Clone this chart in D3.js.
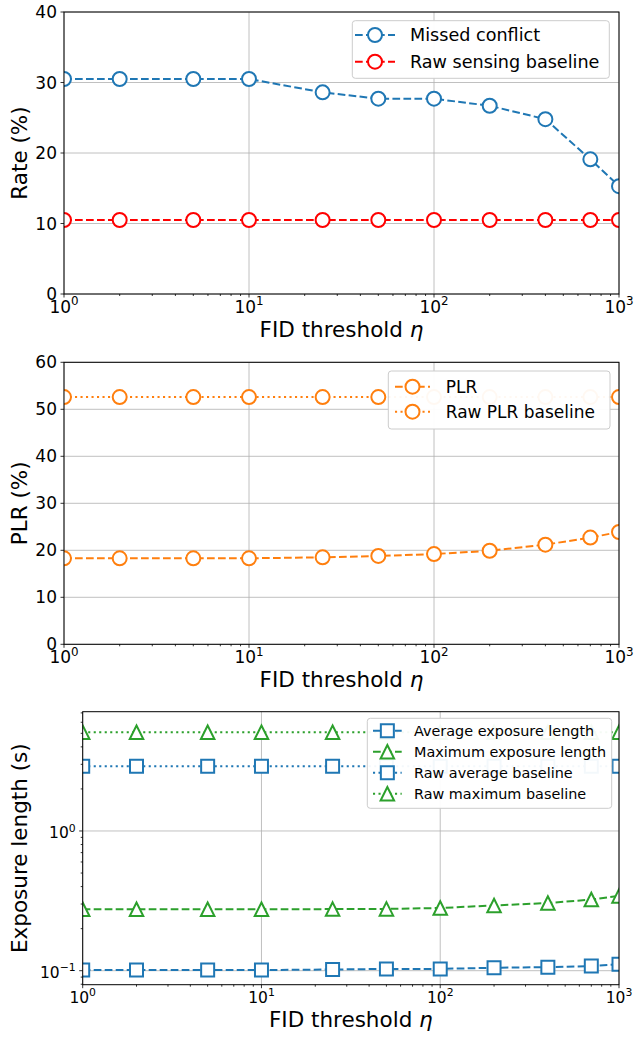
<!DOCTYPE html>
<html>
<head>
<meta charset="utf-8">
<script src="https://cdn.jsdelivr.net/npm/d3@7"></script>
<style>
  body { margin: 0; background: #fff; }
  svg { display: block; }
  text { font-family: "DejaVu Sans", sans-serif; fill: #000; }
</style>
</head>
<body>
<svg id="fig" width="636" height="1038"></svg>
<script>
// ---- data ----
const fidThresholds = [1, 2, 5, 10, 25, 50, 100, 200, 400, 700, 1000];

const missedConflict     = [30.5, 30.5, 30.5, 30.5, 28.6, 27.7, 27.7, 26.7, 24.8, 19.1, 15.3];
const rawSensingBaseline = [10.5, 10.5, 10.5, 10.5, 10.5, 10.5, 10.5, 10.5, 10.5, 10.5, 10.5];

const plr            = [18.3, 18.3, 18.3, 18.3, 18.5, 18.8, 19.2, 19.9, 21.2, 22.7, 23.9];
const rawPlrBaseline = [52.6, 52.6, 52.6, 52.6, 52.6, 52.6, 52.6, 52.6, 52.6, 52.6, 52.6];

const avgExposure    = [0.101, 0.101, 0.101, 0.101, 0.102, 0.103, 0.103, 0.105, 0.106, 0.108, 0.111];
const maxExposure    = [0.275, 0.275, 0.275, 0.275, 0.276, 0.277, 0.281, 0.293, 0.305, 0.323, 0.343];
const rawAvgBaseline = [2.90, 2.90, 2.90, 2.90, 2.90, 2.90, 2.90, 2.90, 2.90, 2.90, 2.90];
const rawMaxBaseline = [5.09, 5.09, 5.09, 5.09, 5.09, 5.09, 5.09, 5.09, 5.09, 5.09, 5.09];

// ---- ticks ----
const xDecadeExponents = [0, 1, 2, 3];
const rateTicks = [0, 10, 20, 30, 40];
const plrTicks = [0, 10, 20, 30, 40, 50, 60];
const exposureDecadeExponents = [-1, 0];

const BLUE = "#1f77b4", RED = "#ff0000", ORANGE = "#ff7f0e", GREEN = "#2ca02c";
const DASH = { dashed: "7.7,3.3", dotted: "2.1,3.4" };

const svg = d3.select("#fig");

function supLabel(sel, base, exp, size) {
  sel.append("tspan").text(base);
  sel.append("tspan").attr("dy", -0.45 * size).attr("font-size", size * 0.7)
     .text(String(exp).replace("-", "\u2212"));
}

function drawMarker(g, type, cx, cy, color, size) {
  const h = size / 2;
  if (type === "circle") {
    g.append("circle").attr("cx", cx).attr("cy", cy).attr("r", h)
      .attr("fill", "#fff").attr("stroke", color).attr("stroke-width", 2);
  } else {
    const d = type === "square"
      ? `M${-h},${-h}H${h}V${h}H${-h}Z`
      : `M0,${-h}L${h},${h}L${-h},${h}Z`;
    g.append("path").attr("d", d).attr("transform", `translate(${cx},${cy})`)
      .attr("fill", "#fff").attr("stroke", color).attr("stroke-width", 2)
      .attr("stroke-linejoin", "miter");
  }
}

let clipId = 0;
function drawPanel(p) {
  const g = svg.append("g");
  const x = d3.scaleLog().domain([1, 1000]).range([p.left, p.right]);
  const y = (p.logY ? d3.scaleLog() : d3.scaleLinear()).domain(p.yDomain).range([p.bottom, p.top]);
  const id = "clip" + (clipId++);
  g.append("clipPath").attr("id", id).append("rect")
    .attr("x", p.left).attr("y", p.top)
    .attr("width", p.right - p.left).attr("height", p.bottom - p.top);

  // grid
  const grid = g.append("g").attr("stroke", "#b0b0b0").attr("stroke-width", 0.8);
  xDecadeExponents.forEach(e => {
    const xv = x(Math.pow(10, e));
    grid.append("line").attr("x1", xv).attr("x2", xv).attr("y1", p.top).attr("y2", p.bottom);
  });
  p.yTickValues.forEach(v => {
    const yv = y(v);
    grid.append("line").attr("x1", p.left).attr("x2", p.right).attr("y1", yv).attr("y2", yv);
  });

  // series
  const plot = g.append("g").attr("clip-path", `url(#${id})`);
  const line = d3.line().x((d, i) => x(fidThresholds[i])).y(d => y(d));
  p.series.forEach(s => {
    plot.append("path").datum(s.values).attr("d", line)
      .attr("fill", "none").attr("stroke", s.color).attr("stroke-width", 2)
      .attr("stroke-dasharray", DASH[s.dash]);
    s.values.forEach((v, i) => drawMarker(plot, s.marker, x(fidThresholds[i]), y(v), s.color, s.size));
  });

  // spines
  g.append("rect").attr("x", p.left).attr("y", p.top)
    .attr("width", p.right - p.left).attr("height", p.bottom - p.top)
    .attr("fill", "none").attr("stroke", "#000").attr("stroke-width", 1);

  // x ticks
  const ticks = g.append("g").attr("stroke", "#000").attr("stroke-width", 0.8);
  xDecadeExponents.forEach(e => {
    const xv = x(Math.pow(10, e));
    ticks.append("line").attr("x1", xv).attr("x2", xv).attr("y1", p.bottom).attr("y2", p.bottom + 3.5);
    const t = g.append("text").attr("x", xv).attr("y", p.bottom + p.xTickBaseline)
      .attr("text-anchor", "middle").attr("font-size", p.tickFont);
    supLabel(t, "10", e, p.tickFont);
  });
  [1, 10, 100].forEach(dec => {
    for (let k = 2; k <= 9; k++) {
      const xv = x(dec * k);
      ticks.append("line").attr("x1", xv).attr("x2", xv).attr("y1", p.bottom).attr("y2", p.bottom + 2);
    }
  });

  // y ticks
  p.yTickValues.forEach((v, i) => {
    const yv = y(v);
    ticks.append("line").attr("x1", p.left - 3.5).attr("x2", p.left).attr("y1", yv).attr("y2", yv);
    const t = g.append("text").attr("x", p.left - 7).attr("y", yv + p.yTickShift)
      .attr("text-anchor", "end").attr("font-size", p.tickFont);
    if (p.logY) supLabel(t, "10", exposureDecadeExponents[i], p.tickFont);
    else t.text(p.yTickLabels[i]);
  });
  if (p.logY) {
    const [lo, hi] = p.yDomain;
    [0.01, 0.1, 1].forEach(dec => {
      for (let k = 2; k <= 9; k++) {
        const v = dec * k;
        if (v < lo || v > hi) continue;
        const yv = y(v);
        ticks.append("line").attr("x1", p.left - 2).attr("x2", p.left).attr("y1", yv).attr("y2", yv);
      }
    });
  }

  // axis labels
  const xl = g.append("text").attr("x", (p.left + p.right) / 2).attr("y", p.xLabelY)
    .attr("text-anchor", "middle").attr("font-size", 21.5);
  xl.append("tspan").text("FID threshold ");
  xl.append("tspan").attr("font-style", "italic").text("\u03b7");
  g.append("text").attr("transform", `translate(27,${(p.top + p.bottom) / 2}) rotate(-90)`)
    .attr("text-anchor", "middle").attr("font-size", 21.5).text(p.yLabel);

  // legend
  const L = p.legend;
  const lg = g.append("g");
  lg.append("rect").attr("x", L.x0).attr("y", L.y0)
    .attr("width", L.x1 - L.x0).attr("height", L.y1 - L.y0).attr("rx", 3)
    .attr("fill", "#fff").attr("fill-opacity", 0.95)
    .attr("stroke", "#cccccc").attr("stroke-width", 1);
  p.series.forEach((s, i) => {
    const cy = L.row0 + i * L.rowGap;
    lg.append("line").attr("x1", L.h0).attr("x2", L.h1).attr("y1", cy).attr("y2", cy)
      .attr("stroke", s.color).attr("stroke-width", 2).attr("stroke-dasharray", DASH[s.dash]);
    drawMarker(lg, s.marker, (L.h0 + L.h1) / 2, cy, s.color, s.size);
    lg.append("text").attr("x", L.tx).attr("y", cy + 0.35 * L.font)
      .attr("font-size", L.font).text(s.label);
  });
}

drawPanel({
  left: 64, right: 619, top: 12, bottom: 294,
  yDomain: [0, 40], yTickValues: rateTicks, yTickLabels: rateTicks.map(String),
  tickFont: 17, xTickBaseline: 19, yTickShift: 6, xLabelY: 337,
  yLabel: "Rate (%)",
  series: [
    { values: missedConflict, color: BLUE, dash: "dashed", marker: "circle", size: 14, label: "Missed conflict" },
    { values: rawSensingBaseline, color: RED, dash: "dashed", marker: "circle", size: 14, label: "Raw sensing baseline" }
  ],
  legend: { x0: 352.3, y0: 20.7, x1: 609.3, y1: 78.3, row0: 35, rowGap: 26.7, h0: 355, h1: 395, tx: 410, font: 17.6 }
});

drawPanel({
  left: 64, right: 619, top: 362.3, bottom: 644.3,
  yDomain: [0, 60], yTickValues: plrTicks, yTickLabels: plrTicks.map(String),
  tickFont: 17, xTickBaseline: 19, yTickShift: 6, xLabelY: 687,
  yLabel: "PLR (%)",
  series: [
    { values: plr, color: ORANGE, dash: "dashed", marker: "circle", size: 14, label: "PLR" },
    { values: rawPlrBaseline, color: ORANGE, dash: "dotted", marker: "circle", size: 14, label: "Raw PLR baseline" }
  ],
  legend: { x0: 388.3, y0: 371, x1: 610, y1: 429, row0: 386.7, rowGap: 25, h0: 395, h1: 430, tx: 445.7, font: 17 }
});

drawPanel({
  left: 82.7, right: 619, top: 711.7, bottom: 984.7,
  logY: true, yDomain: [0.0794, 7.14],
  yTickValues: exposureDecadeExponents.map(e => Math.pow(10, e)),
  tickFont: 15.5, xTickBaseline: 18.6, yTickShift: 7.5, xLabelY: 1027,
  yLabel: "Exposure length (s)",
  series: [
    { values: avgExposure, color: BLUE, dash: "dashed", marker: "square", size: 13, label: "Average exposure length" },
    { values: maxExposure, color: GREEN, dash: "dashed", marker: "triangle", size: 13.5, label: "Maximum exposure length" },
    { values: rawAvgBaseline, color: BLUE, dash: "dotted", marker: "square", size: 13, label: "Raw average baseline" },
    { values: rawMaxBaseline, color: GREEN, dash: "dotted", marker: "triangle", size: 13.5, label: "Raw maximum baseline" }
  ],
  legend: { x0: 367.3, y0: 718.3, x1: 611.7, y1: 808.3, row0: 730.7, rowGap: 21, h0: 373, h1: 401.7, tx: 414, font: 14.4 }
});
</script>
</body>
</html>
